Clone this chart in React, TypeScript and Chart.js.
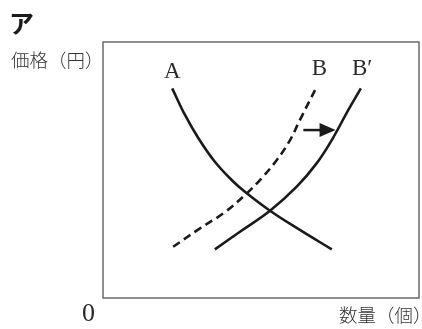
import React, { useEffect, useRef } from "react";
import { Chart, registerables } from "chart.js";

Chart.register(...registerables);

// Curve A (demand)
const aX = [21.9, 25.95, 30.2, 35.4, 40.7, 44.9, 52.85, 62.3, 72.4];
const aY = [81.9, 71.5, 62.4, 53.2, 46.1, 41.5, 34.1, 26.6, 19.0];
// Curve B (supply, dashed)
const bX = [22.2, 30.7, 38.1, 44.9, 50.2, 55.0, 59.2, 62.3, 67.4];
const bY = [20.0, 27.2, 33.1, 40.2, 46.8, 53.9, 61.7, 69.5, 81.9];
// Curve B' (shifted supply)
const b2X = [35.4, 43.35, 52.85, 61.3, 67.6, 72.4, 77.6, 81.6];
const b2Y = [19.0, 25.9, 34.1, 43.5, 52.6, 61.7, 73.4, 81.9];

// Shift arrow (from, to)
const arrowX = [63.4, 73.6];
const arrowY = [65.6, 65.6];

// Curve labels
const curveLabels = ["A", "B", "B′"];
const labelX = [21.9, 68.5, 82.0];
const labelY = [85.9, 87.0, 87.0];

const title = "ア";
const yTitle = "価格（円）";
const xTitle = "数量（個）";
const originLabel = "0";

const toPts = (xs: number[], ys: number[]) => xs.map((x, i) => ({ x, y: ys[i] }));

export default function App() {
  const ref = useRef<HTMLCanvasElement | null>(null);

  useEffect(() => {
    document.body.style.margin = "0";
    const canvas = ref.current;
    if (!canvas) return;

    const overlay = {
      id: "overlay",
      beforeDatasetsDraw(chart: any) {
        const { ctx, chartArea } = chart;
        ctx.save();
        ctx.strokeStyle = "#6a6a6a";
        ctx.lineWidth = 1.5;
        ctx.strokeRect(chartArea.left, chartArea.top, chartArea.right - chartArea.left, chartArea.bottom - chartArea.top);
        ctx.restore();
      },
      afterDatasetsDraw(chart: any) {
        const { ctx, chartArea, scales } = chart;
        const xs = scales.x;
        const ys = scales.y;
        ctx.save();
        // arrow
        const x0 = xs.getPixelForValue(arrowX[0]);
        const x1 = xs.getPixelForValue(arrowX[1]);
        const y0 = ys.getPixelForValue(arrowY[0]);
        const y1 = ys.getPixelForValue(arrowY[1]);
        const head = 16;
        ctx.strokeStyle = "#1a1a1a";
        ctx.fillStyle = "#1a1a1a";
        ctx.lineWidth = 2.5;
        ctx.beginPath();
        ctx.moveTo(x0, y0);
        ctx.lineTo(x1 - head + 1, y1);
        ctx.stroke();
        ctx.beginPath();
        ctx.moveTo(x1, y1);
        ctx.lineTo(x1 - head, y1 - 7);
        ctx.lineTo(x1 - head, y1 + 7);
        ctx.closePath();
        ctx.fill();

        // curve labels
        ctx.fillStyle = "#2a2a2a";
        ctx.font = "23px 'Liberation Serif', serif";
        ctx.textAlign = "center";
        ctx.textBaseline = "alphabetic";
        curveLabels.forEach((t, i) => {
          ctx.fillText(t, xs.getPixelForValue(labelX[i]), ys.getPixelForValue(labelY[i]));
        });

        // origin
        ctx.font = "26px 'Liberation Serif', serif";
        ctx.textAlign = "right";
        ctx.fillText(originLabel, chartArea.left - 8, chartArea.bottom + 23);

        // axis titles
        ctx.fillStyle = "#333";
        ctx.font = "300 18.5px 'Noto Sans CJK JP', sans-serif";
        ctx.textAlign = "left";
        ctx.textBaseline = "middle";
        ctx.fillText(yTitle, chartArea.left - 92, chartArea.top + 18);
        ctx.fillText(xTitle, chartArea.right - 80, chartArea.bottom + 17);

        // panel title
        ctx.fillStyle = "#1a1a1a";
        ctx.font = "bold 25px 'Noto Sans CJK JP', sans-serif";
        ctx.textAlign = "left";
        ctx.fillText(title, 9, 23);
        ctx.restore();
      },
    };

    const line = {
      showLine: true,
      pointRadius: 0,
      borderColor: "#1a1a1a",
      borderWidth: 2.6,
      borderCapStyle: "butt" as const,
      tension: 0.4,
      fill: false,
    };

    const chart = new Chart(canvas, {
      type: "scatter",
      data: {
        datasets: [
          { ...line, label: curveLabels[0], data: toPts(aX, aY) },
          { ...line, label: curveLabels[1], data: toPts(bX, bY), borderDash: [8, 5] },
          { ...line, label: curveLabels[2], data: toPts(b2X, b2Y) },
        ],
      },
      options: {
        responsive: false,
        animation: false,
        devicePixelRatio: 1,
        layout: { padding: { left: 103, top: 42, right: 3, bottom: 31 } },
        scales: {
          x: { type: "linear", min: 0, max: 100, display: false },
          y: { type: "linear", min: 0, max: 100, display: false },
        },
        plugins: {
          legend: { display: false },
          tooltip: { enabled: false },
          title: { display: false },
        },
      },
      plugins: [overlay],
    });
    return () => chart.destroy();
  }, []);

  return (
    <div style={{ width: 422, height: 329, background: "#fff" }}>
      <canvas ref={ref} width={422} height={329} style={{ display: "block" }} />
    </div>
  );
}
